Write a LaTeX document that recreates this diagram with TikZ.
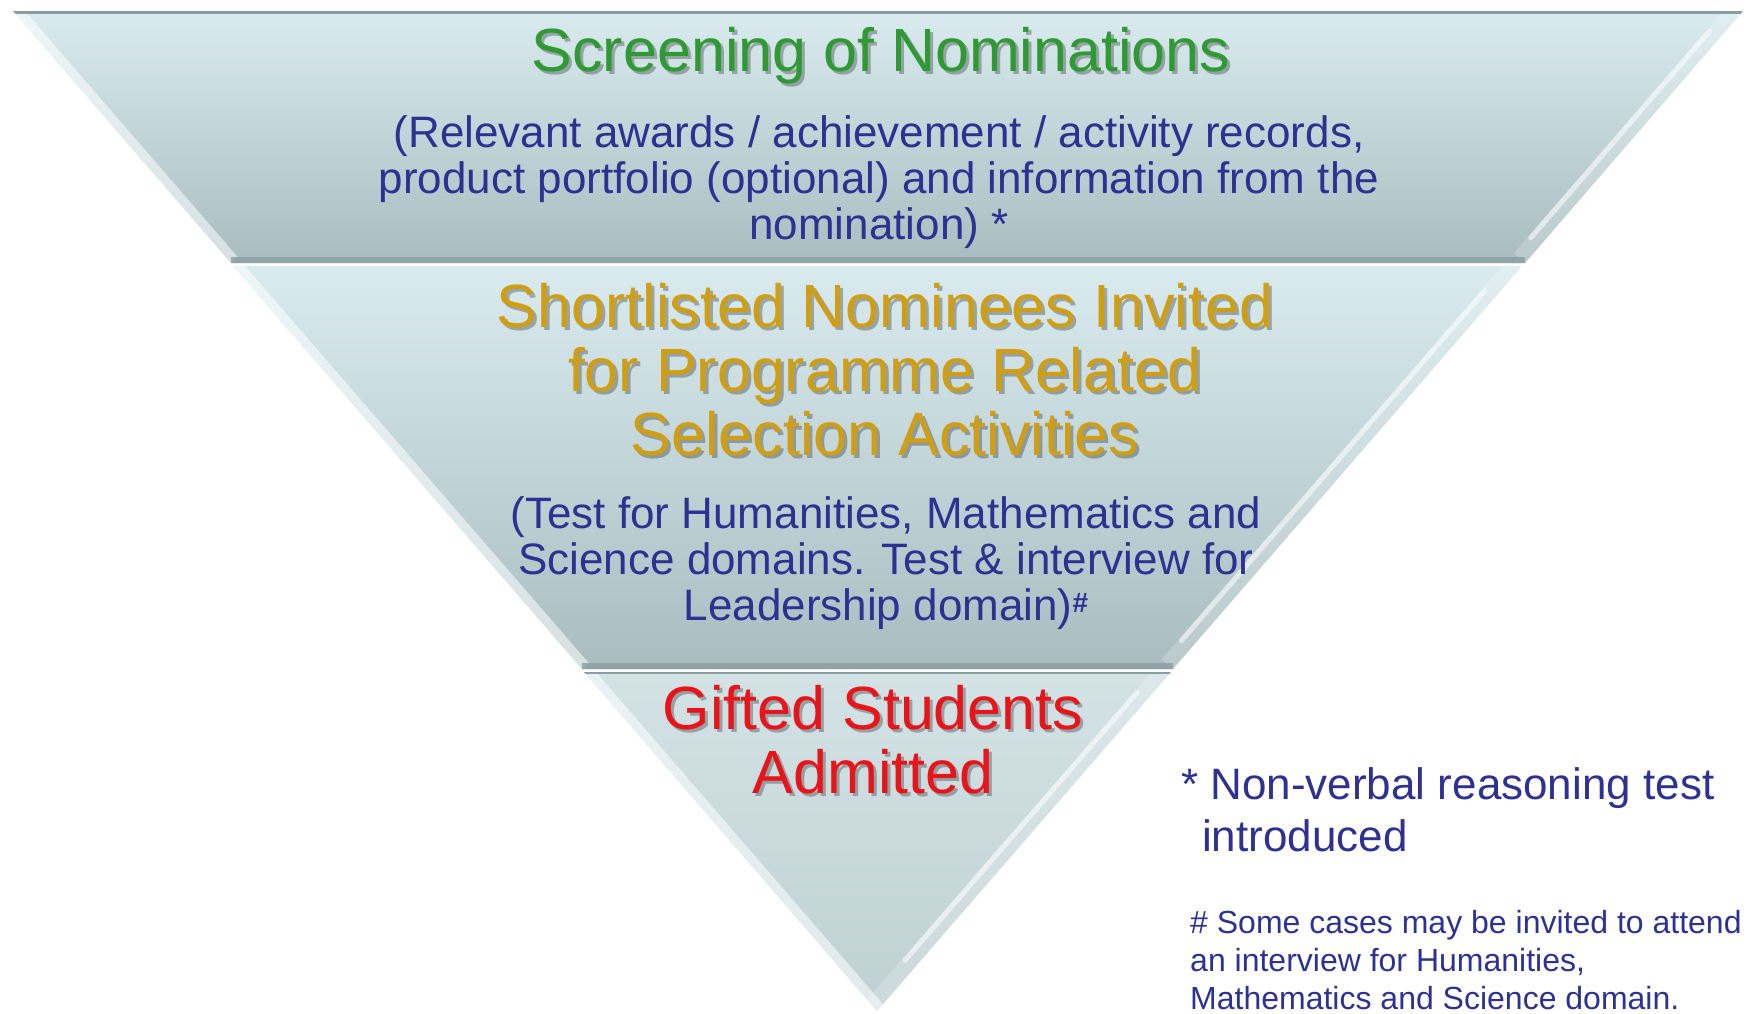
\documentclass[tikz,border=0pt]{standalone}
\usepackage{fontspec}
\setmainfont{Liberation Sans}
\usetikzlibrary{calc}
\definecolor{tgreen}{HTML}{2F9A34}
\definecolor{tgold}{HTML}{CF9E12}
\definecolor{tred}{HTML}{E8141A}
\definecolor{tblue}{HTML}{2E3192}
\definecolor{bandtop}{HTML}{D9EBEF}
\definecolor{bandbot}{HTML}{A9BCC0}
\definecolor{tiptop}{HTML}{D3E2E5}
\definecolor{tipbot}{HTML}{BFD0D3}
\definecolor{bevdark}{HTML}{8A9EA2}
\tikzset{
  title/.style={font=\fontsize{61}{64}\selectfont, align=center, inner sep=0pt, anchor=base},
  body/.style={font=\fontsize{44}{46}\selectfont, align=center, inner sep=0pt, anchor=base, text=tblue},
  shadowtxt/.style={text=black, opacity=0.28},
  hilite/.style={white, opacity=0.55},
  bevface/.style={white, opacity=0.2},
  darkedge/.style={bevdark, opacity=0.8},
}
\begin{document}
\begin{tikzpicture}[x=1pt,y=-1pt]
\useasboundingbox (0,0) rectangle (1752,1013);
% corner coordinates
\coordinate (a1) at (13,11);   \coordinate (b1) at (1743,11);
\coordinate (c1) at (1525,263); \coordinate (d1) at (231,263);
\coordinate (a2) at (233,266); \coordinate (b2) at (1522,266);
\coordinate (c2) at (1173,669); \coordinate (d2) at (582,669);
\coordinate (a3) at (584,672); \coordinate (b3) at (1171,672);
\coordinate (apex) at (877,1011);
% band 1
\begin{scope}
\clip (a1) -- (b1) -- (c1) -- (d1) -- cycle;
\shade[top color=bandtop, bottom color=bandbot] (a1) -- (b1) -- (c1) -- (d1) -- cycle;
\draw[hilite, line width=18] (a1) -- (d1);
\draw[bevface, line width=30] (b1) -- (c1);
\draw[hilite, line width=5, line cap=round] ($(b1)!0.08!(c1)+(-16,0)$) -- ($(b1)!0.9!(c1)+(-16,0)$);
\draw[darkedge, line width=12] (d1) -- (c1);
\draw[bevdark, line width=6] (a1) -- (b1);
\end{scope}
% band 2
\begin{scope}
\clip (a2) -- (b2) -- (c2) -- (d2) -- cycle;
\shade[top color=bandtop, bottom color=bandbot] (a2) -- (b2) -- (c2) -- (d2) -- cycle;
\draw[hilite, line width=18] (a2) -- (d2);
\draw[bevface, line width=30] (b2) -- (c2);
\draw[hilite, line width=5, line cap=round] ($(b2)!0.06!(c2)+(-16,0)$) -- ($(b2)!0.93!(c2)+(-16,0)$);
\draw[darkedge, line width=12] (d2) -- (c2);
\end{scope}
% band 3
\begin{scope}
\clip (a3) -- (b3) -- (apex) -- cycle;
\shade[top color=tiptop, bottom color=tipbot] (a3) -- (b3) -- (apex) -- cycle;
\draw[hilite, line width=18] (a3) -- (apex);
\draw[bevface, line width=30] (b3) -- (apex);
\draw[hilite, line width=5, line cap=round] ($(b3)!0.06!(apex)+(-16,0)$) -- ($(b3)!0.85!(apex)+(-16,0)$);
\draw[bevdark, line width=3] (a3) -- (b3);
\end{scope}
% texts
\node[title, shadowtxt] (t1s) at (884,74.5) {Screening of Nominations};
\node[title, text=tgreen] (t1) at (881,71.5) {Screening of Nominations};
\node[body] (b1t) at (879,239) {(Relevant awards / achievement / activity records,\\product portfolio (optional) and information from the\\nomination) *};
\node[title, shadowtxt] (t2s) at (888,458) {Shortlisted Nominees Invited\\for Programme Related\\Selection Activities};
\node[title, text=tgold] (t2) at (885,455) {Shortlisted Nominees Invited\\for Programme Related\\Selection Activities};
\node[body] (b2t) at (886,620) {(Test for Humanities, Mathematics and\\Science domains. Test \& interview for\\Leadership domain)\raisebox{8pt}{\fontsize{28}{28}\selectfont\bfseries\#}};
\node[title, shadowtxt] (t3s) at (876,796) {Gifted Students\\Admitted};
\node[title, text=tred] (t3) at (873,793) {Gifted Students\\Admitted};
\node[font=\fontsize{44}{52}\selectfont, align=left, inner sep=0pt, anchor=base west, text=tblue] (f1) at (1181,851) {* Non-verbal reasoning test\\\hspace*{21pt}introduced};
\node[font=\fontsize{32}{38}\selectfont, align=left, inner sep=0pt, anchor=base west, text=tblue] (f2) at (1190,1009) {\# Some cases may be invited to attend\\an interview for Humanities,\\Mathematics and Science domain.};
\end{tikzpicture}
\end{document}
